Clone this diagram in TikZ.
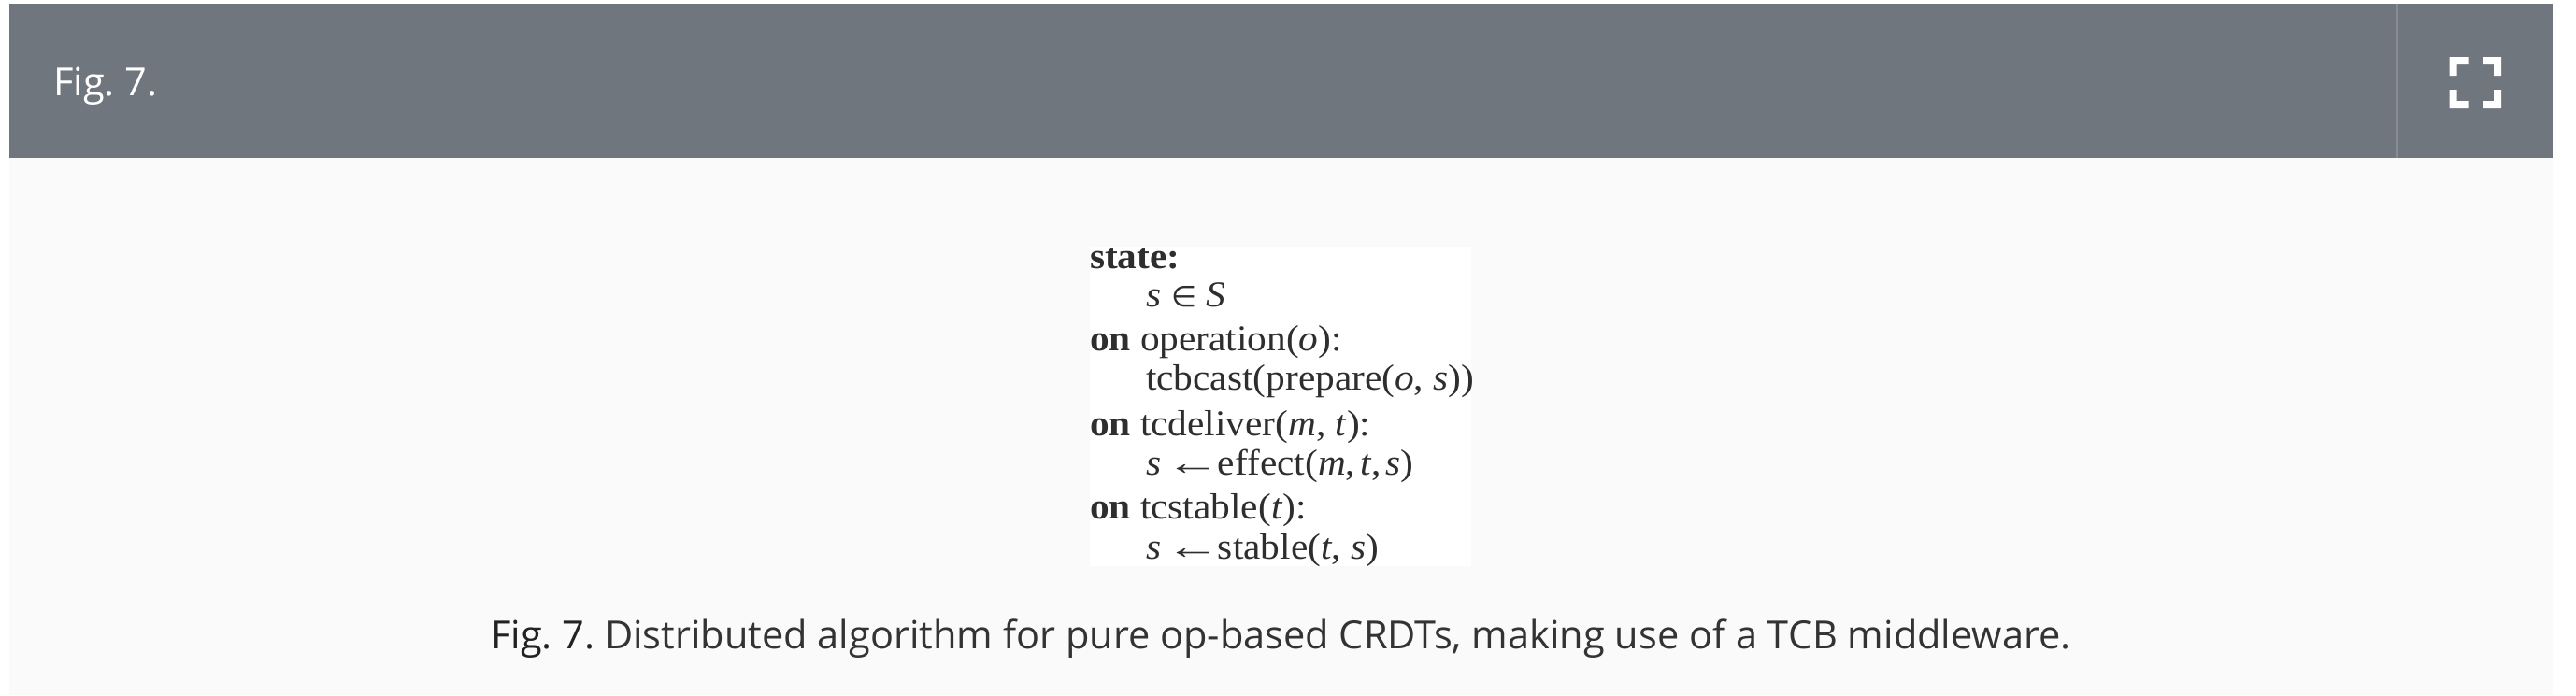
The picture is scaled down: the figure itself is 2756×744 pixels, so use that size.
\documentclass[tikz,border=0pt]{standalone}
\usepackage{fontspec}
\setmainfont{Open Sans}
\newfontfamily\algfont[FakeStretch=1.06]{Liberation Serif}
\newfontfamily\symf{DejaVu Sans}
\definecolor{headbar}{HTML}{6F767E}
\definecolor{dividerc}{HTML}{878C93}
\definecolor{panelbg}{HTML}{FAFAFA}
\definecolor{capc}{HTML}{333333}
\definecolor{capd}{HTML}{222222}
\definecolor{algc}{HTML}{2E2E2E}
\tikzset{
  px/.style={x=1pt,y=-1pt},
  alg/.style={anchor=base west,inner sep=0pt,outer sep=0pt,text=algc,font=\algfont\fontsize{39}{39}\selectfont},
  iconarm/.style={fill=white,draw=none}
}
\newcommand{\ii}[1]{\textit{#1}}
\newcommand{\elem}{\hspace{11pt}{\symf\fontsize{31}{31}\selectfont ∈}\hspace{10pt}}
\newcommand{\getsarrow}{\hspace{5pt}\scalebox{1.4}[1]{←}\hspace{-2pt}}
\newcommand{\tcomma}{,\hspace{5pt}}
\begin{document}
\frenchspacing
\begin{tikzpicture}[px]
\useasboundingbox (0,0) rectangle (2756,744);
\fill[white] (0,0) rectangle (2756,744);
\fill[panelbg] (10,4) rectangle (2731,744);
\fill[headbar] (10,4) rectangle (2731,169);
\fill[dividerc] (2563,4) rectangle (2566,169);
\node[anchor=base west,inner sep=0pt,text=white,font=\fontsize{41.5}{42}\selectfont] (hdr) at (57,102) {Fig. 7.};
% icon
\fill[iconarm] (2620.5,61) -| (2640.5,69) -| (2628.5,81) -| (2620.5,61) -- cycle;
\fill[iconarm] (2676,61) -| (2656,69) -| (2668,81) -| (2676,61) -- cycle;
\fill[iconarm] (2620.5,116) -| (2640.5,108) -| (2628.5,96) -| (2620.5,116) -- cycle;
\fill[iconarm] (2676,116) -| (2656,108) -| (2668,96) -| (2676,116) -- cycle;
% algorithm image
\fill[white] (1166,264) rectangle (1574,606);
\node[alg] (l1) at (1166,287) {\textbf{state:}};
\node[alg] (l2) at (1226,328) {\ii{s}\elem\ii{S}};
\node[alg] (l3) at (1166,375) {\textbf{on} operation(\ii{o}):};
\node[alg] (l4) at (1226,417) {tcbcast(prepare(\ii{o}, \ii{s}))};
\node[alg] (l5) at (1166,466) {\textbf{on} tcdeliver(\ii{m}, \ii{t}):};
\node[alg] (l6) at (1226,508) {\ii{s}\getsarrow effect(\ii{m}\tcomma\ii{t}\tcomma\ii{s})};
\node[alg] (l7) at (1166,555) {\textbf{on} tcstable(\ii{t}):};
\node[alg] (l8) at (1226,598) {\ii{s}\getsarrow stable(\ii{t}, \ii{s})};
% caption
\node[anchor=base west,inner sep=0pt,text=capc,font=\fontsize{41.5}{42}\selectfont] (cap) at (525,694) {\textcolor{capd}{Fig. 7.} Distributed algorithm for pure op-based CRDTs, making use of a TCB middleware.};
\end{tikzpicture}
\end{document}
